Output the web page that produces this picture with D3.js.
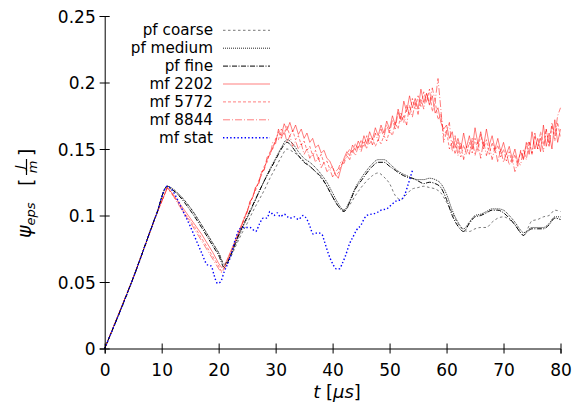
<!DOCTYPE html>
<html>
<head>
<meta charset="utf-8">
<script src="https://cdn.jsdelivr.net/npm/d3@7"></script>
<style>
  body { margin: 0; background: #fff; }
  svg text { fill: #000; }
  .axis path, .axis line { stroke: #000; stroke-width: 1; }
</style>
</head>
<body>
<div id="chart"></div>
<script>
// tick values / labels
const xTicks = [0, 10, 20, 30, 40, 50, 60, 70, 80];
const yTicks = [0, 0.05, 0.1, 0.15, 0.2, 0.25];
const yTickLabels = ['0', '0.05', '0.1', '0.15', '0.2', '0.25'];

// phase field runs (time in microseconds)
const tPf = [0, 5, 9, 11, 12, 13, 15, 17, 19, 20, 21, 22, 23, 24, 25, 26, 27, 28, 29, 30,
  31, 32, 33, 34, 35, 36, 37, 38, 39, 40, 41, 42, 43, 44, 45, 46, 47, 48, 49, 50,
  51, 52, 53, 54, 55, 56, 57, 58, 59, 60, 61, 62, 63, 64, 65, 66, 67, 68, 69, 70,
  71, 72, 73, 73.5, 74, 75, 76, 77, 78, 79, 80];

const pfCoarse = [0, 0.053, 0.100, 0.121, 0.119, 0.116, 0.106, 0.093, 0.079, 0.072, 0.064, 0.068, 0.077, 0.086, 0.094, 0.103, 0.111, 0.119, 0.128, 0.136,
  0.144, 0.150, 0.148, 0.145, 0.141, 0.137, 0.133, 0.128, 0.122, 0.114, 0.107, 0.104, 0.108, 0.115, 0.121, 0.126, 0.130, 0.132, 0.129, 0.124,
  0.115, 0.112, 0.116, 0.120, 0.121, 0.122, 0.121, 0.120, 0.117, 0.110, 0.102, 0.094, 0.089, 0.088, 0.090, 0.091, 0.091, 0.095, 0.098, 0.099,
  0.097, 0.093, 0.087, 0.085, 0.088, 0.096, 0.097, 0.099, 0.100, 0.104, 0.103];

const pfMedium = [0, 0.053, 0.100, 0.122, 0.120, 0.116, 0.106, 0.093, 0.079, 0.072, 0.063, 0.069, 0.079, 0.089, 0.098, 0.107, 0.117, 0.126, 0.135, 0.143,
  0.151, 0.157, 0.154, 0.148, 0.143, 0.140, 0.136, 0.131, 0.125, 0.117, 0.109, 0.104, 0.111, 0.121, 0.128, 0.134, 0.139, 0.142, 0.142, 0.139,
  0.135, 0.132, 0.130, 0.128, 0.127, 0.127, 0.128, 0.127, 0.124, 0.116, 0.104, 0.095, 0.090, 0.095, 0.100, 0.101, 0.103, 0.105, 0.105, 0.104,
  0.100, 0.095, 0.089, 0.087, 0.088, 0.091, 0.091, 0.091, 0.094, 0.099, 0.099];

const pfFine = [0, 0.053, 0.100, 0.122, 0.119, 0.115, 0.104, 0.091, 0.077, 0.070, 0.061, 0.069, 0.080, 0.090, 0.099, 0.108, 0.117, 0.126, 0.134, 0.142,
  0.150, 0.155, 0.151, 0.145, 0.140, 0.137, 0.133, 0.129, 0.122, 0.114, 0.107, 0.103, 0.110, 0.120, 0.126, 0.132, 0.137, 0.140, 0.140, 0.137,
  0.134, 0.131, 0.129, 0.128, 0.126, 0.124, 0.125, 0.124, 0.121, 0.112, 0.100, 0.092, 0.088, 0.094, 0.099, 0.100, 0.102, 0.104, 0.104, 0.102,
  0.098, 0.093, 0.087, 0.085, 0.087, 0.090, 0.090, 0.090, 0.093, 0.098, 0.097];

// multi-field runs
const tMf = [0, 5, 9, 11, 12, 13, 14, 15, 16, 17, 18, 19, 20, 20.5, 21, 22, 23, 24,
  24.5, 25, 25.5, 26, 26.5, 27, 27.5, 28, 28.5, 29,
  29.5, 30, 30.5, 31, 31.5, 32, 32.5, 33, 33.5, 34,
  34.5, 35, 35.5, 36, 36.5, 37, 37.5, 38, 38.5, 39,
  39.5, 40, 40.5, 41, 41.5, 42, 42.5, 43, 43.5, 44,
  44.5, 45, 45.5, 46, 46.5, 47, 47.5, 48, 48.5, 49,
  49.5, 50, 50.5, 51, 51.5, 52, 52.5, 53, 53.5, 54,
  54.5, 55, 55.5, 56, 56.5, 57, 57.5, 58, 58.5, 59,
  59.5, 60, 60.5, 61, 61.5, 62, 62.5, 63, 63.5, 64,
  64.5, 65, 65.5, 66, 66.5, 67, 67.5, 68, 68.5, 69,
  69.5, 70, 70.5, 71, 71.5, 72, 72.5, 73, 73.5, 74,
  74.5, 75, 75.5, 76, 76.5, 77, 77.5, 78, 78.5, 79,
  79.5, 80];

const mf2202 = [0, 0.053, 0.100, 0.121, 0.116, 0.110, 0.104, 0.098, 0.092, 0.086, 0.079, 0.072, 0.064, 0.061, 0.062, 0.072, 0.082, 0.093,
  0.098, 0.103, 0.110, 0.114, 0.121, 0.124, 0.132, 0.135, 0.142, 0.146,
  0.151, 0.156, 0.163, 0.160, 0.169, 0.164, 0.170, 0.163, 0.168, 0.161,
  0.165, 0.158, 0.162, 0.155, 0.158, 0.151, 0.153, 0.147, 0.149, 0.143,
  0.141, 0.136, 0.131, 0.128, 0.136, 0.143, 0.148, 0.145, 0.153, 0.149,
  0.156, 0.151, 0.160, 0.154, 0.163, 0.157, 0.166, 0.160, 0.168, 0.162,
  0.171, 0.165, 0.175, 0.168, 0.180, 0.172, 0.186, 0.178, 0.190, 0.181,
  0.188, 0.180, 0.195, 0.185, 0.192, 0.183, 0.190, 0.177, 0.181, 0.170,
  0.165, 0.168, 0.158, 0.163, 0.151, 0.158, 0.150, 0.162, 0.151, 0.160,
  0.150, 0.166, 0.154, 0.163, 0.152, 0.165, 0.153, 0.160, 0.150, 0.158,
  0.148, 0.155, 0.146, 0.152, 0.143, 0.150, 0.140, 0.148, 0.142, 0.155,
  0.146, 0.163, 0.150, 0.158, 0.148, 0.168, 0.152, 0.162, 0.150, 0.172,
  0.155, 0.165];

const mf5772 = [0, 0.053, 0.100, 0.121, 0.115, 0.109, 0.102, 0.096, 0.090, 0.083, 0.076, 0.069, 0.062, 0.058, 0.061, 0.071, 0.081, 0.092,
  0.097, 0.104, 0.108, 0.115, 0.119, 0.126, 0.130, 0.137, 0.140, 0.148,
  0.150, 0.158, 0.157, 0.165, 0.161, 0.167, 0.160, 0.164, 0.157, 0.160,
  0.153, 0.156, 0.149, 0.152, 0.145, 0.149, 0.142, 0.146, 0.139, 0.141,
  0.135, 0.137, 0.130, 0.132, 0.138, 0.141, 0.146, 0.150, 0.147, 0.154,
  0.150, 0.157, 0.152, 0.160, 0.154, 0.158, 0.152, 0.157, 0.154, 0.160,
  0.156, 0.164, 0.160, 0.170, 0.165, 0.177, 0.170, 0.183, 0.175, 0.188,
  0.180, 0.190, 0.182, 0.193, 0.185, 0.195, 0.178, 0.186, 0.172, 0.176,
  0.160, 0.164, 0.150, 0.156, 0.146, 0.155, 0.144, 0.153, 0.146, 0.155,
  0.147, 0.158, 0.148, 0.161, 0.150, 0.157, 0.146, 0.155, 0.147, 0.153,
  0.144, 0.150, 0.141, 0.148, 0.139, 0.146, 0.137, 0.149, 0.143, 0.152,
  0.156, 0.147, 0.160, 0.150, 0.163, 0.153, 0.165, 0.152, 0.168, 0.156,
  0.170, 0.158];

const mf8844 = [0, 0.053, 0.100, 0.121, 0.115, 0.108, 0.101, 0.095, 0.088, 0.081, 0.074, 0.067, 0.060, 0.057, 0.060, 0.070, 0.081, 0.091,
  0.099, 0.102, 0.111, 0.113, 0.122, 0.123, 0.133, 0.134, 0.144, 0.145,
  0.155, 0.154, 0.165, 0.158, 0.164, 0.155, 0.160, 0.152, 0.156, 0.150,
  0.154, 0.146, 0.150, 0.143, 0.147, 0.140, 0.144, 0.136, 0.140, 0.133,
  0.135, 0.129, 0.133, 0.135, 0.141, 0.139, 0.145, 0.142, 0.149, 0.145,
  0.152, 0.148, 0.156, 0.150, 0.159, 0.153, 0.162, 0.156, 0.165, 0.159,
  0.168, 0.162, 0.172, 0.165, 0.178, 0.170, 0.175, 0.168, 0.183, 0.174,
  0.185, 0.176, 0.188, 0.180, 0.192, 0.184, 0.196, 0.186, 0.203, 0.180,
  0.155, 0.163, 0.170, 0.148, 0.160, 0.145, 0.155, 0.142, 0.152, 0.146,
  0.158, 0.145, 0.155, 0.143, 0.156, 0.145, 0.153, 0.142, 0.151, 0.140,
  0.150, 0.140, 0.147, 0.138, 0.143, 0.133, 0.140, 0.138, 0.150, 0.142,
  0.155, 0.146, 0.162, 0.150, 0.158, 0.148, 0.165, 0.152, 0.170, 0.160,
  0.175, 0.181];

const tStat = [0, 5, 9, 11, 12, 13, 14, 15, 16, 17, 18, 18.7, 19.2, 19.8, 20.3, 21, 22, 23, 23.7, 24.5,
  25.5, 26.5, 27.2, 27.8, 28.5, 29, 29.7, 30.3, 30.8, 31.5, 32.5, 33.3, 34, 34.8, 35.5, 36, 36.6, 37.4, 38.1, 38.6,
  39.2, 40.1, 40.6, 41.2, 41.7, 42.2, 43, 43.6, 44.2, 45, 45.6, 46, 46.8, 47.7, 48.5, 49.5, 50.3, 51.2, 52, 52.6,
  53.3, 54.1];
const mfStat = [0, 0.053, 0.100, 0.122, 0.118, 0.110, 0.101, 0.092, 0.082, 0.072, 0.063, 0.062, 0.055, 0.049, 0.050, 0.058, 0.068, 0.083, 0.090, 0.091,
  0.091, 0.088, 0.094, 0.098, 0.098, 0.103, 0.100, 0.102, 0.099, 0.101, 0.098, 0.099, 0.097, 0.100, 0.097, 0.092, 0.086, 0.087, 0.086, 0.080,
  0.072, 0.063, 0.060, 0.060, 0.064, 0.069, 0.079, 0.084, 0.089, 0.093, 0.098, 0.100, 0.101, 0.102, 0.104, 0.105, 0.108, 0.111, 0.112, 0.115,
  0.124, 0.135];

const seriesNames = ['pf coarse', 'pf medium', 'pf fine', 'mf 2202', 'mf 5772', 'mf 8844', 'mf stat'];

// no serif face in the sandbox, DejaVu Sans has the closest metrics
const fontFamily = "'DejaVu Sans', 'Liberation Serif', sans-serif";
const width = 583, height = 411;
const svg = d3.select('#chart').append('svg')
  .attr('width', width)
  .attr('height', height)
  .attr('font-family', fontFamily);

const x = d3.scaleLinear().domain([0, 80]).range([104.7, 560.5]);
const y = d3.scaleLinear().domain([0, 0.25]).range([348.5, 16]);

// styles per series, same order as seriesNames
const styles = [
  { stroke: '#555', width: 0.8, dash: '2.5,2.5', opacity: 1 },
  { stroke: '#000', width: 1, dash: '1,1', opacity: 0.85 },
  { stroke: '#000', width: 1, dash: '5,1.5,1,1.5', opacity: 1 },
  { stroke: '#ff0000', width: 1, dash: null, opacity: 0.5 },
  { stroke: '#ff0000', width: 1, dash: '3,2', opacity: 0.5 },
  { stroke: '#ff0000', width: 1, dash: '7,2,1,2', opacity: 0.5 },
  { stroke: '#0000ff', width: 1.4, dash: '1.4,2.2', opacity: 1 }
];

const datasets = [
  [tPf, pfCoarse], [tPf, pfMedium], [tPf, pfFine],
  [tMf, mf2202], [tMf, mf5772], [tMf, mf8844],
  [tStat, mfStat]
];

const smooth = d3.line().x(d => x(d[0])).y(d => y(d[1])).curve(d3.curveMonotoneX);
const jagged = d3.line().x(d => x(d[0])).y(d => y(d[1]));

const plot = svg.append('g');
// red first, then black, blue on top
const drawOrder = [3, 4, 5, 0, 1, 2, 6];
drawOrder.forEach(i => {
  const [ts, vs] = datasets[i];
  const pts = ts.map((t, k) => [t, vs[k]]);
  const st = styles[i];
  plot.append('path')
    .attr('d', (i >= 3 && i <= 5 ? jagged : smooth)(pts))
    .attr('fill', 'none')
    .attr('stroke', st.stroke)
    .attr('stroke-width', st.width)
    .attr('stroke-opacity', st.opacity)
    .attr('stroke-dasharray', st.dash);
});

// axes, ticks cross the axis line
const xAxis = svg.append('g').attr('class', 'axis')
  .attr('transform', `translate(0,${y(0)})`)
  .call(d3.axisBottom(x).tickValues(xTicks).tickSizeOuter(0).tickSize(5));
xAxis.attr('font-family', fontFamily).attr('font-size', 17);
xAxis.selectAll('.tick line').attr('y1', -5).attr('y2', 5);
xAxis.selectAll('.tick text').attr('y', 27).attr('dy', null);

const yAxis = svg.append('g').attr('class', 'axis')
  .attr('transform', `translate(${x(0)},0)`)
  .call(d3.axisLeft(y).tickValues(yTicks).tickFormat((d, i) => yTickLabels[i]).tickSizeOuter(0).tickSize(5));
yAxis.attr('font-family', fontFamily).attr('font-size', 17);
yAxis.selectAll('.tick line').attr('x1', -5).attr('x2', 5);
yAxis.selectAll('.tick text').attr('x', -9).attr('dy', '0.36em');

// x label
const xl = svg.append('text')
  .attr('x', 337).attr('y', 398)
  .attr('text-anchor', 'middle')
  .attr('font-size', 18);
xl.append('tspan').attr('font-style', 'italic').text('t');
xl.append('tspan').text(' [');
xl.append('tspan').attr('font-style', 'italic').text('μs');
xl.append('tspan').text(']');

// y label
const yl = svg.append('g').attr('transform', 'translate(31,238) rotate(-90)');
const ylt = yl.append('text').attr('x', 0).attr('y', 0).attr('font-size', 19);
ylt.append('tspan').attr('font-style', 'italic').text('ψ');
ylt.append('tspan').attr('font-style', 'italic').attr('font-size', 13).attr('dy', 4).text('eps');
yl.append('text').attr('x', 52).attr('y', 2).attr('font-size', 19).text('[');
yl.append('text').attr('x', 71).attr('y', -7).attr('text-anchor', 'middle')
  .attr('font-size', 13).attr('font-style', 'italic').text('J');
yl.append('line').attr('x1', 63).attr('x2', 79).attr('y1', -4.5).attr('y2', -4.5)
  .attr('stroke', '#000').attr('stroke-width', 1.2);
yl.append('text').attr('x', 71).attr('y', 6).attr('text-anchor', 'middle')
  .attr('font-size', 13).attr('font-style', 'italic').text('m');
yl.append('text').attr('x', 82).attr('y', 2).attr('font-size', 19).text(']');

// legend, rows are tight so the font is kept a bit under the row pitch
const legend = svg.append('g');
seriesNames.forEach((name, i) => {
  const ly = 30.3 + i * 17.9;
  const st = styles[i];
  legend.append('text')
    .attr('x', 213).attr('y', ly + 5)
    .attr('text-anchor', 'end')
    .attr('font-size', 15.2)
    .text(name);
  legend.append('line')
    .attr('x1', 223).attr('x2', 270).attr('y1', ly).attr('y2', ly)
    .attr('stroke', st.stroke)
    .attr('stroke-width', st.width)
    .attr('stroke-opacity', st.opacity)
    .attr('stroke-dasharray', st.dash);
});
</script>
</body>
</html>
